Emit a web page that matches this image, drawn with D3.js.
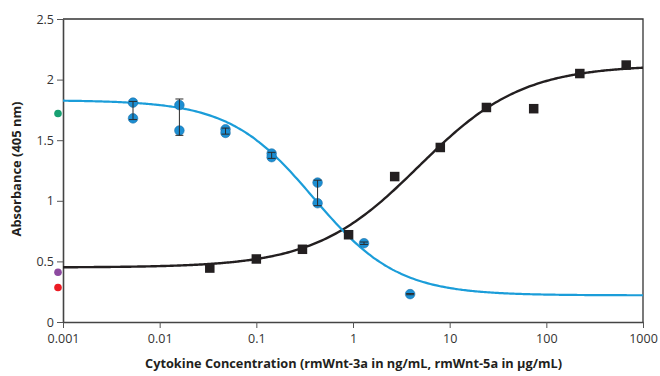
<!DOCTYPE html>
<html>
<head>
<meta charset="utf-8">
<script src="https://cdn.jsdelivr.net/npm/d3@7"></script>
<style>
  body { margin: 0; background: #fff; }
  text { font-family: "Open Sans", sans-serif; }
</style>
</head>
<body>
<script>
// rmWnt-3a (black squares)
const wnt3aConc = [0.033, 0.1, 0.3, 0.9, 2.7, 8, 24, 74, 222, 670];
const wnt3aAbs = [0.445, 0.52, 0.60, 0.72, 1.20, 1.44, 1.77, 1.76, 2.05, 2.12];

// rmWnt-5a (blue circles), two replicates + error bar range
const wnt5aConc = [0.0053, 0.016, 0.048, 0.144, 0.43, 1.3, 3.9];
const wnt5aRep1 = [1.81, 1.79, 1.59, 1.39, 1.15, 0.65, 0.23];
const wnt5aRep2 = [1.68, 1.58, 1.56, 1.36, 0.98, null, null];
const wnt5aErrLo = [1.67, 1.54, 1.55, 1.35, 0.96, 0.64, 0.225];
const wnt5aErrHi = [1.82, 1.84, 1.60, 1.40, 1.17, 0.66, 0.235];

// fitted 4PL curves: [bottom, top, EC50, hill]
const wnt3aFit = [0.45, 2.12, 4.8, 0.81];
const wnt5aFit = [0.22, 1.83, 0.39, 1.0];

// controls drawn at the y axis
const controlAbs = [1.72, 0.41, 0.285];
const controlColors = ["#17a072", "#8d4aa0", "#ec1c24"];

const xTicks = [0.001, 0.01, 0.1, 1, 10, 100, 1000];
const yTicks = [0, 0.5, 1, 1.5, 2, 2.5];

const width = 660, height = 376;
const margin = {top: 19, right: 17, bottom: 54, left: 63};

const svg = d3.select("body").append("svg")
    .attr("width", width).attr("height", height);

const x = d3.scaleLog().domain([0.001, 1000]).range([margin.left, width - margin.right]);
const y = d3.scaleLinear().domain([0, 2.5]).range([height - margin.bottom, margin.top]);

// frame (top + right)
svg.append("path")
    .attr("d", `M${x(0.001)},${y(2.5)}H${x(1000)}V${y(0)}`)
    .attr("fill", "none").attr("stroke", "#333").attr("stroke-width", 1.3);

const xAxis = svg.append("g")
    .attr("transform", `translate(0,${y(0)})`)
    .call(d3.axisBottom(x).tickValues(xTicks).tickFormat(d => String(d)).tickSize(6).tickSizeOuter(0));
const yAxis = svg.append("g")
    .attr("transform", `translate(${x(0.001)},0)`)
    .call(d3.axisLeft(y).tickValues(yTicks).tickFormat(d => String(d)).tickSize(6).tickSizeOuter(0));

[xAxis, yAxis].forEach(g => {
  g.select(".domain").attr("stroke", "#444").attr("stroke-width", 1.6);
  g.selectAll(".tick line").attr("stroke", "#555").attr("stroke-width", 1);
  g.selectAll(".tick text").attr("fill", "#333").style("font-size", "12.5px")
      .style("font-family", "'Open Sans', sans-serif");
});
xAxis.selectAll(".tick text").attr("dy", "0.95em");

// curves
function fourPL(p, c) {
  const [bottom, top, ec, h] = p;
  return bottom + (top - bottom) / (1 + Math.pow(ec / c, h));
}
const curveX = d3.range(0, 241).map(i => Math.pow(10, -3 + i * 6 / 240));
const line = d3.line().x(d => x(d[0])).y(d => y(d[1])).curve(d3.curveMonotoneX);

svg.append("path")
    .datum(curveX.map(c => [c, fourPL(wnt3aFit, c)]))
    .attr("d", line).attr("fill", "none").attr("stroke", "#231f20").attr("stroke-width", 2.4);

svg.append("path")
    .datum(curveX.map(c => [c, wnt5aFit[0] + (wnt5aFit[1] - wnt5aFit[0]) / (1 + Math.pow(c / wnt5aFit[2], wnt5aFit[3]))]))
    .attr("d", line).attr("fill", "none").attr("stroke", "#1b9dd9").attr("stroke-width", 2.2);

// black squares
const sq = 9.5;
svg.selectAll("rect.w3").data(wnt3aConc).join("rect")
    .attr("class", "w3")
    .attr("x", (d) => x(d) - sq / 2)
    .attr("y", (d, i) => y(wnt3aAbs[i]) - sq / 2)
    .attr("width", sq).attr("height", sq)
    .attr("fill", "#231f20");

// blue replicate circles
const blue = svg.append("g");
wnt5aConc.forEach((c, i) => {
  [wnt5aRep1[i], wnt5aRep2[i]].filter(v => v != null).forEach(v => {
    blue.append("circle")
        .attr("cx", x(c)).attr("cy", y(v)).attr("r", 4.8)
        .attr("fill", "#1c8fd3").attr("stroke", "#1a6fa8").attr("stroke-width", 0.6);
  });
});

// error bars
const err = svg.append("g").attr("stroke", "#2b2b2b").attr("stroke-width", 1);
wnt5aConc.forEach((c, i) => {
  const cx = x(c), lo = y(wnt5aErrLo[i]), hi = y(wnt5aErrHi[i]);
  err.append("line").attr("x1", cx).attr("x2", cx).attr("y1", lo).attr("y2", hi);
  err.append("line").attr("x1", cx - 4).attr("x2", cx + 4).attr("y1", lo).attr("y2", lo);
  err.append("line").attr("x1", cx - 4).attr("x2", cx + 4).attr("y1", hi).attr("y2", hi);
});

// control dots left of the axis
svg.selectAll("circle.ctrl").data(controlAbs).join("circle")
    .attr("class", "ctrl")
    .attr("cx", x(0.001) - 5).attr("cy", d => y(d)).attr("r", 3.8)
    .attr("fill", (d, i) => controlColors[i]);

// axis titles
svg.append("text")
    .attr("x", 353.5).attr("y", 368)
    .attr("text-anchor", "middle")
    .attr("textLength", 417).attr("lengthAdjust", "spacingAndGlyphs")
    .style("font-size", "12px").style("font-weight", "bold").attr("fill", "#231f20")
    .text("Cytokine Concentration (rmWnt-3a in ng/mL, rmWnt-5a in µg/mL)");

svg.append("text")
    .attr("transform", `translate(21,${169}) rotate(-90)`)
    .attr("text-anchor", "middle")
    .attr("textLength", 135).attr("lengthAdjust", "spacingAndGlyphs")
    .style("font-size", "12px").style("font-weight", "bold").attr("fill", "#231f20")
    .text("Absorbance (405 nm)");
</script>
</body>
</html>
